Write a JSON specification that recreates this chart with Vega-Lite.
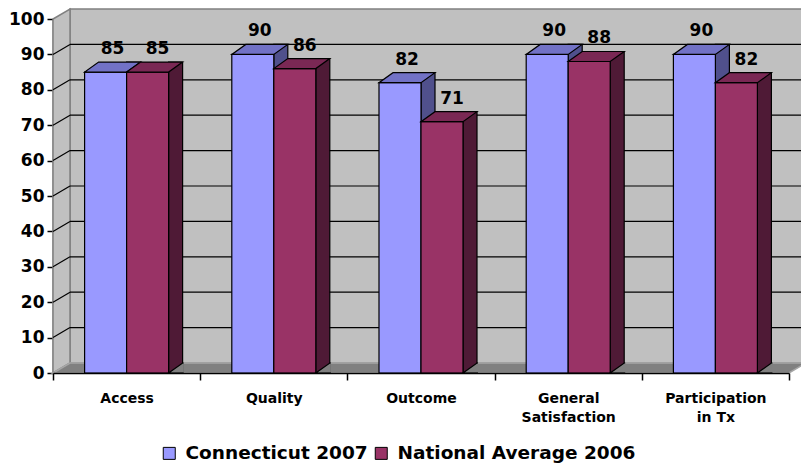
{
  "$schema": "https://vega.github.io/schema/vega-lite/v6.json",
  "width": 736,
  "height": 354,
  "autosize": {"type": "none"},
  "padding": {"left": 53, "top": 19, "right": 12, "bottom": 93},
  "background": "white",
  "config": {"font": "DejaVu Sans", "view": {"stroke": null},
    "axisY": {"labelOverlap": false, "labelFont": "DejaVu Sans", "labelFontSize": 17, "labelFontWeight": "bold", "labelColor": "black", "labelPadding": 3, "tickSize": 6, "tickColor": "black", "tickWidth": 1.5, "domainColor": "black", "domainWidth": 1.5, "grid": false, "zindex": 1, "title": null}},
  "datasets": {
    "bars": [
      {"category": "Access", "series": "Connecticut 2007", "value": 85},
      {"category": "Access", "series": "National Average 2006", "value": 85},
      {"category": "Quality", "series": "Connecticut 2007", "value": 90},
      {"category": "Quality", "series": "National Average 2006", "value": 86},
      {"category": "Outcome", "series": "Connecticut 2007", "value": 82},
      {"category": "Outcome", "series": "National Average 2006", "value": 71},
      {"category": "General Satisfaction", "series": "Connecticut 2007", "value": 90},
      {"category": "General Satisfaction", "series": "National Average 2006", "value": 88},
      {"category": "Participation in Tx", "series": "Connecticut 2007", "value": 90},
      {"category": "Participation in Tx", "series": "National Average 2006", "value": 82}
    ],
    "grid": [{"v": 10}, {"v": 20}, {"v": 30}, {"v": 40}, {"v": 50}, {"v": 60}, {"v": 70}, {"v": 80}, {"v": 90}],
    "one": [{"k": 1}]
  },
  "data": {"name": "bars"},
  "layer": [
    {
      "data": {"name": "one"},
      "mark": {"type": "rect", "fill": "#c0c0c0", "stroke": "#808080", "strokeWidth": 1.5, "yOffset": -10, "y2Offset": -10},
      "encoding": {
        "x": {"value": 17}, "x2": {"value": 760},
        "y": {"datum": 100, "type": "quantitative", "scale": {"domain": [0, 100], "nice": false}, "axis": {"title": null, "values": [0, 10, 20, 30, 40, 50, 60, 70, 80, 90, 100], "labelOverlap": false}},
        "y2": {"datum": 0}
      }
    },
    {
      "data": {"name": "one"},
      "mark": {"type": "point", "shape": "M0,0 L0,-354 L17,-364 L17,-10 Z", "size": 4, "filled": true, "fill": "#c0c0c0", "stroke": "#808080", "strokeWidth": 1.5, "opacity": 1},
      "encoding": {
        "x": {"value": 0},
        "y": {"datum": 0, "type": "quantitative", "scale": {"domain": [0, 100], "nice": false}, "axis": {"title": null, "values": [0, 10, 20, 30, 40, 50, 60, 70, 80, 90, 100], "labelOverlap": false}}
      }
    },
    {
      "data": {"name": "one"},
      "mark": {"type": "point", "shape": "M0,0 L736,0 L753,-10 L17,-10 Z", "size": 4, "filled": true, "fill": "#808080", "stroke": "#a6a6a6", "strokeWidth": 1.5, "opacity": 1},
      "encoding": {
        "x": {"value": 0},
        "y": {"datum": 0, "type": "quantitative", "scale": {"domain": [0, 100], "nice": false}, "axis": {"title": null, "values": [0, 10, 20, 30, 40, 50, 60, 70, 80, 90, 100], "labelOverlap": false}}
      }
    },
    {
      "data": {"name": "grid"},
      "mark": {"type": "rule", "color": "black", "strokeWidth": 1.2, "yOffset": -10},
      "encoding": {
        "x": {"value": 17}, "x2": {"value": 760},
        "y": {"field": "v", "type": "quantitative", "scale": {"domain": [0, 100], "nice": false}, "axis": {"title": null, "values": [0, 10, 20, 30, 40, 50, 60, 70, 80, 90, 100], "labelOverlap": false}}
      }
    },
    {
      "data": {"name": "grid"},
      "mark": {"type": "rule", "color": "black", "strokeWidth": 1.2, "y2Offset": -10},
      "encoding": {
        "x": {"value": 0}, "x2": {"value": 17},
        "y": {"field": "v", "type": "quantitative", "scale": {"domain": [0, 100], "nice": false}, "axis": {"title": null, "values": [0, 10, 20, 30, 40, 50, 60, 70, 80, 90, 100], "labelOverlap": false}},
        "y2": {"field": "v"}
      }
    },
    {
      "transform": [{"filter": "datum.series == 'Connecticut 2007'"}],
      "mark": {"type": "bar", "width": 14, "xOffset": 7, "yOffset": -10, "fill": "#50508c", "stroke": "black", "strokeWidth": 1.2},
      "encoding": {
        "x": {"field": "category", "type": "nominal", "sort": null, "scale": {"type": "band", "domain": ["Access", "Quality", "Outcome", "General Satisfaction", "Participation in Tx"], "paddingInner": 0, "paddingOuter": 0},
          "axis": {"title": null, "tickBand": "extent", "labelAngle": 0, "labelFont": "DejaVu Sans", "labelFontWeight": "bold", "labelFontSize": 14, "labelColor": "black", "labelPadding": 11, "labelLineHeight": 19, "labelExpr": "length(datum.label) > 10 ? [substring(datum.label, 0, indexof(datum.label, ' ')), substring(datum.label, indexof(datum.label, ' ') + 1)] : datum.label", "domainColor": "black", "domainWidth": 1.5, "tickColor": "black", "tickSize": 7, "tickWidth": 1.5, "grid": false, "zindex": 1}},
        "y": {"field": "value", "type": "quantitative", "stack": null, "scale": {"domain": [0, 100], "nice": false}, "axis": {"title": null, "values": [0, 10, 20, 30, 40, 50, 60, 70, 80, 90, 100], "labelOverlap": false}}
      }
    },
    {
      "transform": [{"filter": "datum.series == 'Connecticut 2007'"}],
      "mark": {"type": "bar", "width": 42, "xOffset": -21, "stroke": "black", "strokeWidth": 1.2, "opacity": 1},
      "encoding": {
        "x": {"field": "category", "type": "nominal", "sort": null, "scale": {"type": "band", "domain": ["Access", "Quality", "Outcome", "General Satisfaction", "Participation in Tx"], "paddingInner": 0, "paddingOuter": 0}},
        "y": {"field": "value", "type": "quantitative", "stack": null, "scale": {"domain": [0, 100], "nice": false}, "axis": {"title": null, "values": [0, 10, 20, 30, 40, 50, 60, 70, 80, 90, 100], "labelOverlap": false}},
        "color": {"field": "series", "type": "nominal", "scale": {"domain": ["Connecticut 2007", "National Average 2006"], "range": ["#9999ff", "#993366"]},
          "legend": {"title": null, "orient": "none", "legendX": 107, "legendY": 425, "direction": "horizontal", "symbolType": "square", "symbolSize": 144, "symbolStrokeColor": "black", "symbolStrokeWidth": 1, "symbolOpacity": 1, "labelFont": "DejaVu Sans", "labelFontSize": 18.5, "labelFontWeight": "bold", "labelColor": "black", "labelOffset": 7, "columnPadding": 4, "padding": 0, "labelLimit": 400}}
      }
    },
    {
      "transform": [{"filter": "datum.series == 'Connecticut 2007'"}],
      "mark": {"type": "point", "shape": "M-21,0 L21,0 L35,-10 L-7,-10 Z", "size": 4, "filled": true, "fill": "#7272c6", "stroke": "black", "strokeWidth": 1.2, "opacity": 1, "xOffset": -21},
      "encoding": {
        "x": {"field": "category", "type": "nominal", "sort": null, "scale": {"type": "band", "domain": ["Access", "Quality", "Outcome", "General Satisfaction", "Participation in Tx"], "paddingInner": 0, "paddingOuter": 0}},
        "y": {"field": "value", "type": "quantitative", "scale": {"domain": [0, 100], "nice": false}, "axis": {"title": null, "values": [0, 10, 20, 30, 40, 50, 60, 70, 80, 90, 100], "labelOverlap": false}}
      }
    },
    {
      "transform": [{"filter": "datum.series == 'National Average 2006'"}],
      "mark": {"type": "bar", "width": 14, "xOffset": 49, "yOffset": -10, "fill": "#4f1a36", "stroke": "black", "strokeWidth": 1.2},
      "encoding": {
        "x": {"field": "category", "type": "nominal", "sort": null, "scale": {"type": "band", "domain": ["Access", "Quality", "Outcome", "General Satisfaction", "Participation in Tx"], "paddingInner": 0, "paddingOuter": 0}},
        "y": {"field": "value", "type": "quantitative", "stack": null, "scale": {"domain": [0, 100], "nice": false}, "axis": {"title": null, "values": [0, 10, 20, 30, 40, 50, 60, 70, 80, 90, 100], "labelOverlap": false}}
      }
    },
    {
      "transform": [{"filter": "datum.series == 'National Average 2006'"}],
      "mark": {"type": "bar", "width": 42, "xOffset": 21, "stroke": "black", "strokeWidth": 1.2, "opacity": 1},
      "encoding": {
        "x": {"field": "category", "type": "nominal", "sort": null, "scale": {"type": "band", "domain": ["Access", "Quality", "Outcome", "General Satisfaction", "Participation in Tx"], "paddingInner": 0, "paddingOuter": 0}},
        "y": {"field": "value", "type": "quantitative", "stack": null, "scale": {"domain": [0, 100], "nice": false}, "axis": {"title": null, "values": [0, 10, 20, 30, 40, 50, 60, 70, 80, 90, 100], "labelOverlap": false}},
        "color": {"field": "series", "type": "nominal", "scale": {"domain": ["Connecticut 2007", "National Average 2006"], "range": ["#9999ff", "#993366"]},
          "legend": {"title": null, "orient": "none", "legendX": 107, "legendY": 425, "direction": "horizontal", "symbolType": "square", "symbolSize": 144, "symbolStrokeColor": "black", "symbolStrokeWidth": 1, "symbolOpacity": 1, "labelFont": "DejaVu Sans", "labelFontSize": 18.5, "labelFontWeight": "bold", "labelColor": "black", "labelOffset": 7, "columnPadding": 4, "padding": 0, "labelLimit": 400}}
      }
    },
    {
      "transform": [{"filter": "datum.series == 'National Average 2006'"}],
      "mark": {"type": "point", "shape": "M-21,0 L21,0 L35,-10 L-7,-10 Z", "size": 4, "filled": true, "fill": "#7a2854", "stroke": "black", "strokeWidth": 1.2, "opacity": 1, "xOffset": 21},
      "encoding": {
        "x": {"field": "category", "type": "nominal", "sort": null, "scale": {"type": "band", "domain": ["Access", "Quality", "Outcome", "General Satisfaction", "Participation in Tx"], "paddingInner": 0, "paddingOuter": 0}},
        "y": {"field": "value", "type": "quantitative", "scale": {"domain": [0, 100], "nice": false}, "axis": {"title": null, "values": [0, 10, 20, 30, 40, 50, 60, 70, 80, 90, 100], "labelOverlap": false}}
      }
    },
    {
      "transform": [{"filter": "datum.series == 'National Average 2006'"}],
      "mark": {"type": "point", "shape": "M36,0 L21,0 L35,-10 L36,-10", "size": 4, "filled": true, "fill": "#808080", "stroke": "black", "strokeWidth": 1.2, "opacity": 1, "xOffset": 21},
      "encoding": {
        "x": {"field": "category", "type": "nominal", "sort": null, "scale": {"type": "band", "domain": ["Access", "Quality", "Outcome", "General Satisfaction", "Participation in Tx"], "paddingInner": 0, "paddingOuter": 0}},
        "y": {"datum": 0, "type": "quantitative", "scale": {"domain": [0, 100], "nice": false}, "axis": {"title": null, "values": [0, 10, 20, 30, 40, 50, 60, 70, 80, 90, 100], "labelOverlap": false}}
      }
    },
    {
      "transform": [{"filter": "datum.series == 'Connecticut 2007'"}],
      "mark": {"type": "text", "font": "DejaVu Sans", "fontSize": 17, "fontWeight": "bold", "color": "black", "baseline": "alphabetic", "align": "center", "dy": -18, "xOffset": -14},
      "encoding": {
        "x": {"field": "category", "type": "nominal", "sort": null, "scale": {"type": "band", "domain": ["Access", "Quality", "Outcome", "General Satisfaction", "Participation in Tx"], "paddingInner": 0, "paddingOuter": 0}},
        "y": {"field": "value", "type": "quantitative", "scale": {"domain": [0, 100], "nice": false}, "axis": {"title": null, "values": [0, 10, 20, 30, 40, 50, 60, 70, 80, 90, 100], "labelOverlap": false}},
        "text": {"field": "value", "type": "quantitative"}
      }
    },
    {
      "transform": [{"filter": "datum.series == 'National Average 2006'"}],
      "mark": {"type": "text", "font": "DejaVu Sans", "fontSize": 17, "fontWeight": "bold", "color": "black", "baseline": "alphabetic", "align": "center", "dy": -18, "xOffset": 31},
      "encoding": {
        "x": {"field": "category", "type": "nominal", "sort": null, "scale": {"type": "band", "domain": ["Access", "Quality", "Outcome", "General Satisfaction", "Participation in Tx"], "paddingInner": 0, "paddingOuter": 0}},
        "y": {"field": "value", "type": "quantitative", "scale": {"domain": [0, 100], "nice": false}, "axis": {"title": null, "values": [0, 10, 20, 30, 40, 50, 60, 70, 80, 90, 100], "labelOverlap": false}},
        "text": {"field": "value", "type": "quantitative"}
      }
    }
  ]
}
